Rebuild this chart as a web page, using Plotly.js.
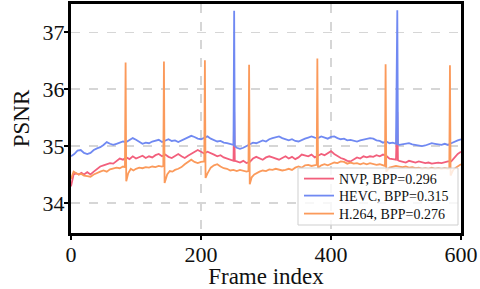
<!DOCTYPE html>
<html>
<head>
<meta charset="utf-8">
<script src="https://cdn.plot.ly/plotly-3.0.1.min.js"></script>
<style>
html,body{margin:0;padding:0;background:#fff;}
#chart{width:480px;height:289px;}
</style>
</head>
<body>
<div id="chart"></div>
<script>
// ---- data ----
const seriesNames = ["NVP, BPP=0.296", "HEVC, BPP=0.315", "H.264, BPP=0.276"];
const xTicks = [0, 200, 400, 600];
const yTicks = [34, 35, 36, 37];

const nvpFrames = [0,2,4,8,12,16,20,25,30,35,40,45,50,55,60,65,70,75,80,85,90,95,100,105,110,115,120,125,130,135,140,145,150,155,160,165,170,175,180,185,190,195,200,205,210,215,220,225,230,235,240,245,250,251,252,255,260,265,270,275,280,285,290,295,300,305,310,315,320,325,330,335,340,345,350,355,360,365,370,375,380,385,390,395,400,405,410,415,420,425,430,435,440,445,450,455,460,465,470,475,480,485,490,495,500,502,503,505,510,515,520,525,530,535,540,545,550,555,560,565,570,575,580,585,590,595,600];
const nvpPsnr = [34.29,34.40,34.50,34.52,34.50,34.53,34.50,34.54,34.50,34.55,34.60,34.64,34.66,34.68,34.70,34.69,34.74,34.78,34.76,34.80,34.77,34.82,34.78,34.80,34.83,34.79,34.82,34.80,34.84,34.86,34.82,34.85,34.81,34.79,34.83,34.86,34.82,34.79,34.83,34.86,34.89,34.93,34.90,34.87,34.90,34.88,34.85,34.82,34.84,34.80,34.78,34.76,34.74,35.60,34.74,34.73,34.71,34.74,34.70,34.72,34.78,34.81,34.78,34.76,34.80,34.82,34.80,34.78,34.76,34.79,34.82,34.78,34.81,34.77,34.80,34.85,34.84,34.82,34.85,34.80,34.83,34.86,34.84,34.88,34.91,34.86,34.82,34.79,34.77,34.74,34.73,34.76,34.80,34.78,34.82,34.80,34.82,34.81,34.84,34.82,34.85,34.83,34.78,34.77,34.76,35.60,34.75,34.74,34.73,34.71,34.74,34.72,34.71,34.73,34.71,34.70,34.71,34.69,34.70,34.71,34.70,34.72,34.73,34.73,34.80,34.86,34.90];

const hevcFrames = [0,5,10,15,20,25,30,35,40,45,50,55,60,65,70,75,80,85,90,95,100,105,110,115,120,125,130,135,140,145,150,155,160,165,170,175,180,185,190,195,200,205,210,215,220,225,230,235,240,245,250,251,252,255,260,265,270,275,280,285,290,295,300,305,310,315,320,325,330,335,340,345,350,355,360,365,370,375,380,385,390,395,400,405,410,415,420,425,430,435,440,445,450,455,460,465,470,475,480,485,490,495,500,502,503,505,510,515,520,525,530,535,540,545,550,555,560,565,570,575,580,585,590,595,600];
const hevcPsnr = [34.82,34.86,34.92,34.93,34.88,34.86,34.88,34.93,34.96,34.98,35.02,35.07,35.04,35.02,35.04,35.06,35.08,35.07,35.10,35.14,35.11,35.07,35.04,35.06,35.05,35.08,35.10,35.11,35.07,35.10,35.12,35.09,35.10,35.07,35.10,35.13,35.16,35.18,35.16,35.13,35.12,35.15,35.17,35.13,35.10,35.08,35.09,35.06,35.05,35.03,35.02,37.38,35.00,34.97,34.95,34.97,35.00,35.04,35.06,35.05,35.08,35.10,35.08,35.12,35.14,35.16,35.17,35.14,35.12,35.10,35.12,35.09,35.08,35.11,35.13,35.15,35.17,35.15,35.14,35.17,35.15,35.13,35.16,35.17,35.14,35.12,35.13,35.10,35.11,35.09,35.08,35.10,35.11,35.12,35.14,35.13,35.10,35.09,35.06,35.08,35.05,35.06,35.04,37.39,35.03,35.02,35.03,35.04,35.05,35.03,35.02,35.01,35.00,35.01,35.03,35.05,35.04,35.03,35.02,35.04,35.02,35.05,35.08,35.10,35.12];

const h264Frames = [0,2,4,8,12,16,20,25,30,35,40,45,50,55,60,65,70,75,80,83,84,85,88,92,96,100,105,110,115,120,125,130,135,140,142,143,144,148,152,156,160,165,170,175,180,185,190,195,200,205,206,207,210,215,220,225,230,235,240,245,250,255,260,265,270,273,274,275,278,282,286,290,295,300,305,310,315,320,325,330,335,340,345,350,355,360,365,370,375,378,379,380,385,390,395,400,405,410,415,420,425,430,435,440,445,450,455,460,465,470,475,480,483,484,485,490,495,500,505,510,515,520,525,530,535,540,545,550,555,560,565,570,575,580,582,583,584,588,592,596,600];
const h264Psnr = [34.42,34.50,34.55,34.52,34.50,34.51,34.48,34.47,34.46,34.50,34.53,34.55,34.57,34.55,34.59,34.61,34.62,34.61,34.64,34.63,36.47,34.38,34.52,34.60,34.57,34.60,34.62,34.61,34.63,34.62,34.64,34.63,34.65,34.64,34.65,36.49,34.35,34.50,34.56,34.55,34.58,34.60,34.63,34.68,34.72,34.76,34.72,34.70,34.72,34.73,36.51,34.44,34.52,34.62,34.66,34.68,34.64,34.61,34.60,34.57,34.58,34.56,34.58,34.56,34.55,34.56,36.43,34.33,34.45,34.50,34.53,34.55,34.57,34.56,34.59,34.58,34.60,34.59,34.57,34.58,34.60,34.58,34.62,34.64,34.62,34.66,34.67,34.65,34.66,34.67,36.54,34.62,34.66,34.68,34.66,34.69,34.71,34.70,34.73,34.72,34.69,34.71,34.69,34.70,34.68,34.70,34.68,34.70,34.69,34.67,34.68,34.66,34.65,36.44,34.55,34.62,34.63,34.65,34.64,34.63,34.64,34.62,34.63,34.61,34.62,34.60,34.61,34.60,34.62,34.60,34.61,34.60,34.61,34.60,34.61,36.42,34.48,34.58,34.62,34.65,34.68];

const colors = ["#f25f7c", "#7089f2", "#fb9a5b"];
const FONT = "Liberation Serif, DejaVu Serif, serif";

// plot area in px (for placing the legend pieces)
const PL = 71, PR = 461, PT = 4, PB = 233;
const px2x = p => (p - PL) / (PR - PL);
const px2y = p => (PB - p) / (PB - PT);

const legendIds = ["legend", "legend2", "legend3"];
const rowY = [179, 196, 214];

const traces = [
  {x: nvpFrames, y: nvpPsnr, name: seriesNames[0]},
  {x: hevcFrames, y: hevcPsnr, name: seriesNames[1]},
  {x: h264Frames, y: h264Psnr, name: seriesNames[2]}
].map((t, i) => Object.assign(t, {
  type: "scatter", mode: "lines",
  line: {color: colors[i], width: 1.8},
  legend: legendIds[i]
}));

function axisBase() {
  return {
    showline: true, linewidth: 3, linecolor: "#000", mirror: true,
    ticks: "outside", ticklen: 4, tickwidth: 2, tickcolor: "#000",
    showgrid: true, gridcolor: "#d6d6d6", gridwidth: 1.5, griddash: "dash",
    zeroline: false,
    tickfont: {family: FONT, size: 22, color: "#111"}
  };
}

const legendCommon = {
  xanchor: "left", yanchor: "middle", x: px2x(299),
  bgcolor: "rgba(0,0,0,0)", borderwidth: 0,
  font: {family: FONT, size: 14, color: "#111"}
};

const layout = {
  width: 480, height: 289,
  margin: {l: PL, r: 480 - PR, t: PT, b: 289 - PB},
  paper_bgcolor: "#fff", plot_bgcolor: "#fff",
  font: {family: FONT, color: "#111"},
  xaxis: Object.assign(axisBase(), {
    range: [0, 600], tickvals: xTicks, ticktext: xTicks.map(String),
    ticklabelstandoff: -4,
    title: {text: "Frame index", font: {family: FONT, size: 23}, standoff: 2}
  }),
  yaxis: Object.assign(axisBase(), {
    range: [33.47, 37.5], tickvals: yTicks, ticktext: yTicks.map(String),
    ticklabelstandoff: -5,
    title: {text: "PSNR", font: {family: FONT, size: 23}, standoff: 7}
  }),
  showlegend: true,
  legend: Object.assign({}, legendCommon, {y: px2y(rowY[0])}),
  legend2: Object.assign({}, legendCommon, {y: px2y(rowY[1])}),
  legend3: Object.assign({}, legendCommon, {y: px2y(rowY[2])}),
  shapes: [{
    type: "rect", xref: "paper", yref: "paper", layer: "above",
    x0: px2x(298), x1: px2x(458), y0: px2y(225), y1: px2y(168),
    line: {color: "#cfcfcf", width: 1}, fillcolor: "rgba(255,255,255,0.8)"
  }]
};

Plotly.newPlot("chart", traces, layout, {staticPlot: true, displayModeBar: false});
</script>
</body>
</html>
